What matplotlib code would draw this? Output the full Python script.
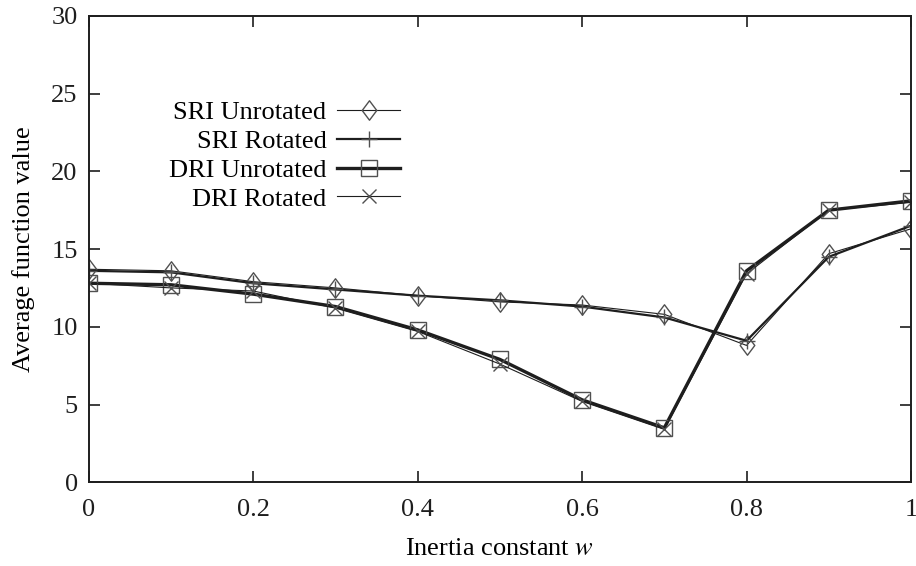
import numpy as np
import matplotlib
matplotlib.use("Agg")
import matplotlib.pyplot as plt
from matplotlib.path import Path

plt.rcParams['font.family'] = ['Liberation Serif', 'DejaVu Serif']
plt.rcParams['mathtext.fontset'] = 'stix'

# data
w = [0.0, 0.1, 0.2, 0.3, 0.4, 0.5, 0.6, 0.7, 0.8, 0.9, 1.0]
sri_unrot = [13.7, 13.6, 12.9, 12.5, 12.0, 11.6, 11.4, 10.8, 8.8, 14.7, 16.3]
sri_rot = [13.6, 13.5, 12.8, 12.4, 12.0, 11.7, 11.3, 10.6, 9.1, 14.5, 16.5]
dri_unrot = [12.8, 12.7, 12.1, 11.3, 9.8, 7.9, 5.3, 3.5, 13.6, 17.5, 18.1]
dri_rot = [12.8, 12.5, 12.3, 11.2, 9.7, 7.6, 5.2, 3.4, 13.4, 17.5, 18.0]

labels = ['SRI Unrotated', 'SRI Rotated', 'DRI Unrotated', 'DRI Rotated']
xticks = [0, 0.2, 0.4, 0.6, 0.8, 1]
xticklabels = ['0', '0.2', '0.4', '0.6', '0.8', '1']
yticks = [0, 5, 10, 15, 20, 25, 30]

line_c = '#1e1e1e'
mark_c = '#505050'

# diamond a bit narrower than tall, like gnuplot's
diamond = Path([(0, 1), (0.75, 0), (0, -1), (-0.75, 0), (0, 1)],
               [Path.MOVETO, Path.LINETO, Path.LINETO, Path.LINETO, Path.CLOSEPOLY])

fig = plt.figure(figsize=(9.16, 5.66), dpi=100)
ax = fig.add_axes([0.097, 0.148, 0.8975, 0.824])

ax.plot(w, sri_unrot, color=line_c, lw=0.8, marker=diamond, ms=14, mfc='none',
        mec=mark_c, mew=1.0, label=labels[0])
ax.plot(w, sri_rot, color=line_c, lw=1.6, marker='+', ms=11.5,
        mec=mark_c, mew=1.0, label=labels[1])
ax.plot(w, dri_unrot, color=line_c, lw=2.4, marker='s', ms=12, mfc='none',
        mec=mark_c, mew=1.0, label=labels[2])
ax.plot(w, dri_rot, color=line_c, lw=0.8, marker='x', ms=9.5,
        mec=mark_c, mew=1.0, label=labels[3])

ax.set_xlim(0, 1)
ax.set_ylim(0, 30)
ax.set_xticks(xticks)
ax.set_xticklabels(xticklabels)
ax.set_yticks(yticks)
ax.tick_params(direction='in', length=8, width=1.2, labelsize=19, pad=8,
               top=True, right=True, colors=line_c)
ax.tick_params(axis='x', pad=12)
for s in ax.spines.values():
    s.set_linewidth(1.4)
    s.set_color(line_c)

ax.set_xlabel('Inertia constant $w$', fontsize=19, labelpad=12)
ax.set_ylabel('Average function value', fontsize=19, labelpad=12)

ax.legend(loc='center right', bbox_to_anchor=(0.395, 0.70), markerfirst=False,
          frameon=False, fontsize=19, handlelength=2.4, handletextpad=0.4,
          labelspacing=0.2, borderpad=0)

fig.savefig('out.png', dpi=100)
